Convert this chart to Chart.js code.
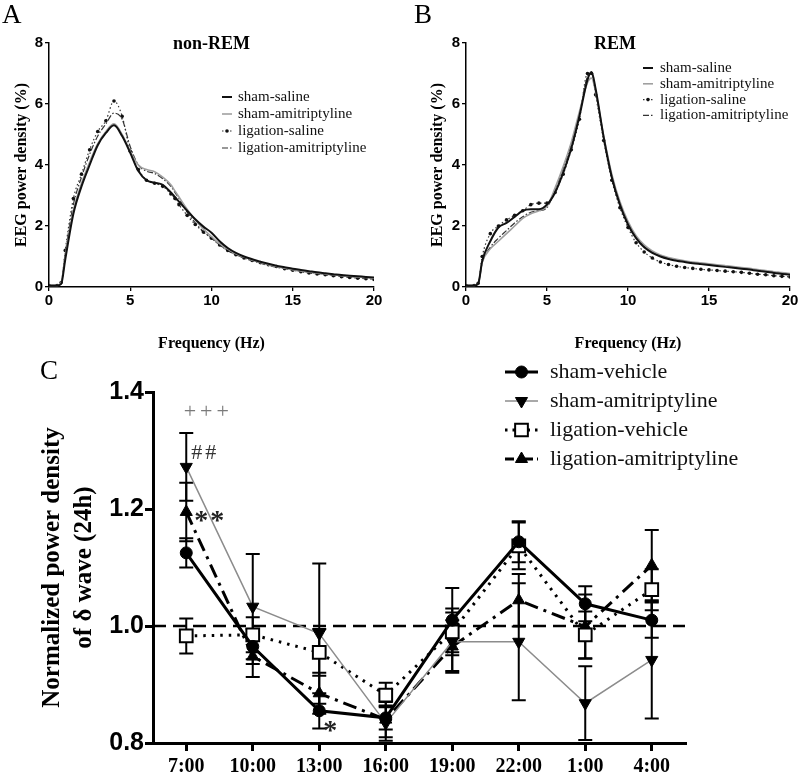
<!DOCTYPE html>
<html><head><meta charset="utf-8">
<script src="https://cdn.jsdelivr.net/npm/chart.js@4.4.0/dist/chart.umd.min.js"></script>
<style>
html,body{margin:0;padding:0;background:#fff;}
#wrap{position:relative;width:800px;height:775px;overflow:hidden;background:#fff;}
canvas{position:absolute;}
.lbl{position:absolute;font-family:'Liberation Serif',serif;font-size:27px;line-height:1;color:#000;}
</style></head><body>
<div id="wrap">
<canvas id="ca" width="400" height="360" style="left:0;top:0"></canvas>
<canvas id="cb" width="400" height="360" style="left:400px;top:0"></canvas>
<canvas id="cc" width="800" height="415" style="left:0;top:360px"></canvas>
<div class="lbl" style="left:2px;top:1px">A</div>
<div class="lbl" style="left:414px;top:1px">B</div>
<div class="lbl" style="left:40px;top:357px">C</div>
</div>
<script>
// ---------- Data: panels A & B (EEG spectra) ----------
const freqHz = [0,0.5,0.75,1,1.5,2,2.5,3,3.5,4,4.5,5,5.5,6,6.5,7,7.5,7.75,8,8.5,9,9.5,10,10.5,11,11.5,12,12.5,13,13.5,14,14.5,15,15.5,16,16.5,17,17.5,18,18.5,19,19.5,20];
const spectrumLabels = ['sham-saline','sham-amitriptyline','ligation-saline','ligation-amitriptyline'];

const nremShamSaline = [0.05,0.05,0.1,0.9,2.4,3.3,4.0,4.65,5.05,5.3,4.95,4.4,3.8,3.5,3.42,3.35,3.1,2.95,2.8,2.5,2.22,1.98,1.78,1.5,1.28,1.12,1.0,0.91,0.83,0.76,0.7,0.65,0.6,0.56,0.52,0.48,0.45,0.42,0.39,0.37,0.35,0.33,0.31];
const nremShamAmit   = [0.05,0.05,0.15,1.0,2.5,3.4,4.1,4.7,5.1,5.35,5.0,4.45,4.0,3.85,3.78,3.6,3.35,3.15,2.95,2.55,2.2,1.9,1.65,1.42,1.24,1.09,0.98,0.88,0.8,0.73,0.67,0.62,0.57,0.53,0.49,0.46,0.43,0.4,0.37,0.35,0.33,0.31,0.29];
const nremLigSaline  = [0.05,0.05,0.15,1.2,2.9,3.7,4.5,5.1,5.45,6.1,5.6,4.45,3.85,3.5,3.4,3.3,3.05,2.9,2.7,2.35,2.05,1.8,1.6,1.38,1.2,1.06,0.95,0.87,0.8,0.73,0.67,0.6,0.55,0.5,0.46,0.43,0.4,0.37,0.34,0.31,0.29,0.27,0.25];
const nremLigAmit    = [0.05,0.05,0.12,1.1,2.7,3.6,4.35,4.95,5.35,5.7,5.5,4.6,4.0,3.8,3.72,3.55,3.3,3.1,2.9,2.45,2.1,1.82,1.6,1.38,1.2,1.06,0.95,0.86,0.78,0.71,0.65,0.6,0.56,0.52,0.48,0.45,0.42,0.39,0.36,0.34,0.32,0.3,0.28];

const remShamSaline = [0.05,0.05,0.1,0.85,1.5,1.95,2.1,2.3,2.5,2.55,2.55,2.7,3.1,3.75,4.55,5.6,6.8,7.05,6.5,4.9,3.6,2.7,2.05,1.6,1.3,1.12,1.0,0.92,0.86,0.82,0.78,0.75,0.72,0.69,0.66,0.63,0.6,0.57,0.53,0.5,0.46,0.43,0.4];
const remShamAmit   = [0.05,0.05,0.1,0.8,1.25,1.5,1.75,2.0,2.25,2.4,2.5,2.65,3.25,3.95,4.75,5.75,6.7,6.85,6.4,4.95,3.7,2.8,2.15,1.68,1.38,1.18,1.05,0.97,0.91,0.86,0.82,0.79,0.76,0.73,0.7,0.67,0.64,0.61,0.57,0.54,0.5,0.47,0.44];
const remLigSaline  = [0.05,0.05,0.12,1.0,1.75,2.0,2.2,2.35,2.5,2.7,2.75,2.75,3.1,3.7,4.5,5.5,7.0,7.0,6.3,4.8,3.5,2.6,1.95,1.45,1.15,0.95,0.82,0.74,0.68,0.64,0.61,0.58,0.56,0.54,0.52,0.5,0.48,0.45,0.42,0.4,0.37,0.35,0.33];
const remLigAmit    = [0.05,0.05,0.1,0.8,1.3,1.6,1.85,2.1,2.3,2.45,2.5,2.6,3.2,3.9,4.7,5.65,6.9,7.0,6.45,4.9,3.6,2.7,2.05,1.62,1.33,1.14,1.02,0.94,0.88,0.84,0.8,0.77,0.74,0.71,0.68,0.65,0.62,0.59,0.56,0.52,0.49,0.46,0.43];

// ---------- Data: panel C ----------
const timeLabels = ['7:00','10:00','13:00','16:00','19:00','22:00','1:00','4:00'];
const groupLabels = ['sham-vehicle','sham-amitriptyline','ligation-vehicle','ligation-amitriptyline'];
const shamVehicle    = [1.125,0.965,0.855,0.843,1.010,1.144,1.038,1.010];
const shamVehicleErr = [0.025,0.030,0.030,0.020,0.055,0.035,0.030,0.030];
const shamAmit       = [1.272,1.033,0.987,0.834,0.973,0.973,0.868,0.942];
const shamAmitErr    = [0.058,0.090,0.120,0.030,0.050,0.100,0.063,0.100];
const ligVehicle     = [0.983,0.985,0.955,0.882,0.990,1.137,0.985,1.062];
const ligVehicleErr  = [0.030,0.030,0.040,0.021,0.040,0.040,0.040,0.035];
const ligAmit        = [1.195,0.948,0.885,0.840,0.965,1.044,0.999,1.104];
const ligAmitErr     = [0.050,0.035,0.035,0.030,0.045,0.045,0.055,0.060];
const baselineValue = 1.0;
const annotText  = ['+++','##','**','*'];
const annotIndex = [0,0,0,2];
const annotValue = [1.366,1.296,1.19,0.831];

// ---------- plugins ----------
const SERIF = "'Liberation Serif', 'Times New Roman', serif";
const SANS = "'Liberation Sans', Arial, sans-serif";

const legendPlugin = {
  id: 'customLegend',
  afterDraw(chart, args, o) {
    if (!o || !o.display) return;
    const ctx = chart.ctx;
    ctx.save();
    chart.data.datasets.forEach((ds, i) => {
      const y = o.y + i * o.dy;
      const x0 = o.x, x1 = o.x + o.lineLen;
      ctx.strokeStyle = ds.borderColor;
      ctx.lineWidth = ds.borderWidth;
      ctx.setLineDash(o.dashes ? (o.dashes[i] || []) : (ds.borderDash || []));
      ctx.beginPath(); ctx.moveTo(x0, y); ctx.lineTo(x1, y); ctx.stroke();
      ctx.setLineDash([]);
      if (ds.pointRadius > 0) {
        ctx.fillStyle = ds.pointBackgroundColor;
        ctx.strokeStyle = ds.pointBorderColor;
        ctx.lineWidth = ds.pointBorderWidth || 1;
        Chart.helpers.drawPoint(ctx, {pointStyle: ds.pointStyle || 'circle', rotation: ds.pointRotation || 0,
          radius: o.markerScale ? ds.pointRadius * o.markerScale : ds.pointRadius, borderWidth: ds.pointBorderWidth || 0}, (x0 + x1) / 2, y);
      }
      ctx.fillStyle = '#111';
      ctx.font = o.font;
      ctx.textBaseline = 'middle';
      ctx.textAlign = 'left';
      ctx.fillText(ds.label, o.textX, y);
    });
    ctx.restore();
  }
};

const titlePlugin = {
  id: 'panelTitle',
  afterDraw(chart, args, o) {
    if (!o || !o.text) return;
    const ctx = chart.ctx, a = chart.chartArea;
    ctx.save();
    ctx.font = o.font; ctx.fillStyle = '#000';
    ctx.textAlign = 'center'; ctx.textBaseline = 'middle';
    ctx.fillText(o.text, (a.left + a.right) / 2 + (o.dx || 0), o.y);
    ctx.restore();
  }
};

const errorBarPlugin = {
  id: 'errorBars',
  beforeDatasetsDraw(chart, args, o) {
    if (!o || !o.display) return;
    const ctx = chart.ctx, ys = chart.scales.y;
    ctx.save();
    // dashed reference line
    const yb = ys.getPixelForValue(o.baseline);
    ctx.strokeStyle = '#000'; ctx.lineWidth = 2.5; ctx.setLineDash([13, 7]);
    ctx.beginPath(); ctx.moveTo(chart.chartArea.left, yb); ctx.lineTo(chart.chartArea.right, yb); ctx.stroke();
    ctx.setLineDash([]);
    chart.data.datasets.forEach((ds, di) => {
      if (!ds.err) return;
      const meta = chart.getDatasetMeta(di);
      meta.data.forEach((pt, i) => {
        const v = ds.data[i], e = ds.err[i];
        const yt = ys.getPixelForValue(v + e), ybm = ys.getPixelForValue(v - e);
        ctx.strokeStyle = '#000'; ctx.lineWidth = 2;
        ctx.beginPath();
        ctx.moveTo(pt.x, yt); ctx.lineTo(pt.x, ybm);
        ctx.moveTo(pt.x - 7, yt); ctx.lineTo(pt.x + 7, yt);
        ctx.moveTo(pt.x - 7, ybm); ctx.lineTo(pt.x + 7, ybm);
        ctx.stroke();
      });
    });
    ctx.restore();
  },
  afterDatasetsDraw(chart, args, o) {
    if (!o || !o.display) return;
    const ctx = chart.ctx, xs = chart.scales.x, ys = chart.scales.y;
    ctx.save();
    ctx.textAlign = 'center'; ctx.textBaseline = 'middle';
    annotText.forEach((t, i) => {
      const st = o.annotStyle[i];
      ctx.font = st.font; ctx.fillStyle = st.color;
      if ('letterSpacing' in ctx) ctx.letterSpacing = st.ls + 'px';
      ctx.fillText(t, xs.getPixelForValue(annotIndex[i]) + st.dx, ys.getPixelForValue(annotValue[i]) + st.dy);
    });
    ctx.restore();
  }
};

Chart.register(legendPlugin, titlePlugin, errorBarPlugin);
Chart.defaults.font.family = SERIF;
Chart.defaults.color = '#000';

function spectrum(vals) { return freqHz.map((f, i) => ({x: f, y: vals[i]})); }

function spectrumDatasets(a, b, c, d) {
  const vals = [a, b, c, d];
  const st = [
    {borderColor: '#111', borderWidth: 2, pointRadius: 0},
    {borderColor: '#a0a0a0', borderWidth: 1.6, pointRadius: 0},
    {borderColor: '#333', borderWidth: 1.2, borderDash: [1.5, 2.5], pointRadius: 1.8, pointBackgroundColor: '#111', pointBorderColor: '#111', pointBorderWidth: 0},
    {borderColor: '#333', borderWidth: 1.2, borderDash: [6, 2, 1.5, 2], pointRadius: 0}
  ];
  return vals.map((v, i) => Object.assign({label: spectrumLabels[i], data: spectrum(v), cubicInterpolationMode: 'monotone', fill: false}, st[i]));
}

function spectrumOptions(cfg) {
  return {
    responsive: false, animation: false, devicePixelRatio: 1,
    layout: {padding: {left: 0, top: 43, right: cfg.padRight, bottom: 0}},
    plugins: {
      legend: {display: false}, tooltip: {enabled: false},
      customLegend: {display: true, x: cfg.legX, lineLen: 10, textX: cfg.legTextX, y: cfg.legY, dy: cfg.legDy, font: '15px ' + SERIF, markerScale: 1},
      panelTitle: {text: cfg.title, y: 44, dx: cfg.titleDx, font: 'bold 18px ' + SERIF},
      errorBars: {display: false}
    },
    scales: {
      x: {
        type: 'linear', min: 0, max: 20,
        ticks: {stepSize: 5, font: {family: SANS, size: 15, weight: 'bold'}, color: '#000', padding: 1, maxRotation: 0},
        grid: {drawOnChartArea: false, drawTicks: true, tickLength: 4, color: '#000', lineWidth: 1.3},
        border: {display: true, color: '#000', width: 1.5},
        title: {display: true, text: 'Frequency (Hz)', font: {family: SERIF, size: 16, weight: 'bold'}, color: '#000', padding: {top: 0, bottom: 6.5}},
        afterFit: s => { s.height = 73; }
      },
      y: {
        min: 0, max: 8,
        ticks: {stepSize: 2, font: {family: SANS, size: 15, weight: 'bold'}, color: '#000', padding: 2},
        grid: {drawOnChartArea: false, drawTicks: true, tickLength: 4, color: '#000', lineWidth: 1.3},
        border: {display: true, color: '#000', width: 1.5},
        title: {display: true, text: 'EEG power density (%)', font: {family: SERIF, size: 16, weight: 'bold'}, color: '#000', padding: {top: cfg.yTitlePad, bottom: 0}},
        afterFit: s => { s.width = cfg.yWidth; }
      }
    }
  };
}

new Chart(document.getElementById('ca'), {
  type: 'line',
  data: {datasets: spectrumDatasets(nremShamSaline, nremShamAmit, nremLigSaline, nremLigAmit)},
  options: spectrumOptions({padRight: 26, yWidth: 49, yTitlePad: 12.4, title: 'non-REM', titleDx: 0,
    legX: 222, legTextX: 238, legY: 97, legDy: 17})
});

new Chart(document.getElementById('cb'), {
  type: 'line',
  data: {datasets: spectrumDatasets(remShamSaline, remShamAmit, remLigSaline, remLigAmit)},
  options: spectrumOptions({padRight: 10, yWidth: 66, yTitlePad: 28.4, title: 'REM', titleDx: -13,
    legX: 243, legTextX: 260, legY: 68, legDy: 15.8})
});

// ---------- Panel C ----------
new Chart(document.getElementById('cc'), {
  type: 'line',
  data: {
    labels: timeLabels,
    datasets: [
      {label: groupLabels[0], data: shamVehicle, err: shamVehicleErr, borderColor: '#000', borderWidth: 3,
       pointStyle: 'circle', pointRadius: 6, pointBackgroundColor: '#000', pointBorderColor: '#000', pointBorderWidth: 1},
      {label: groupLabels[1], data: shamAmit, err: shamAmitErr, borderColor: '#8c8c8c', borderWidth: 1.5,
       pointStyle: 'triangle', pointRotation: 180, pointRadius: 7, pointBackgroundColor: '#000', pointBorderColor: '#000', pointBorderWidth: 1},
      {label: groupLabels[2], data: ligVehicle, err: ligVehicleErr, borderColor: '#000', borderWidth: 3, borderDash: [2.5, 6],
       pointStyle: 'rect', pointRadius: 9, pointBackgroundColor: '#fff', pointBorderColor: '#000', pointBorderWidth: 2},
      {label: groupLabels[3], data: ligAmit, err: ligAmitErr, borderColor: '#000', borderWidth: 3, borderDash: [14, 6, 3, 6],
       pointStyle: 'triangle', pointRadius: 7, pointBackgroundColor: '#000', pointBorderColor: '#000', pointBorderWidth: 1}
    ]
  },
  options: {
    responsive: false, animation: false, devicePixelRatio: 1,
    layout: {padding: {left: 0, top: 32, right: 115, bottom: 0}},
    plugins: {
      legend: {display: false}, tooltip: {enabled: false},
      customLegend: {display: true, x: 505, lineLen: 33, textX: 550, y: 12, dy: 29, font: '22px ' + SERIF,
        dashes: [[], [], [2.5, 5], [9, 4, 2, 4]]},
      errorBars: {display: true, baseline: baselineValue, annotStyle: [
        {font: '22px ' + SERIF, color: '#7a7a7a', dx: 22, dy: 0, ls: 4},
        {font: '22px ' + SERIF, color: '#333', dx: 19, dy: 0, ls: 3},
        {font: 'bold 28px ' + SERIF, color: '#222', dx: 24, dy: 7, ls: 2},
        {font: 'bold 28px ' + SERIF, color: '#222', dx: 11, dy: 7, ls: 0}
      ]},
      panelTitle: {text: ''}
    },
    scales: {
      x: {
        type: 'category', offset: true,
        ticks: {font: {family: SERIF, size: 20, weight: 'bold'}, color: '#000', padding: 4, maxRotation: 0, autoSkip: false},
        grid: {drawOnChartArea: false, drawTicks: true, tickLength: 8, color: '#000', lineWidth: 3, offset: false},
        border: {display: true, color: '#000', width: 3},
        afterFit: s => { s.height = 32; }
      },
      y: {
        min: 0.8, max: 1.4,
        ticks: {stepSize: 0.2, font: {family: SANS, size: 25, weight: 'bold'}, color: '#000', padding: 1,
          callback: v => Number(v).toFixed(1)},
        grid: {drawOnChartArea: false, drawTicks: true, tickLength: 8, color: '#000', lineWidth: 3},
        border: {display: true, color: '#000', width: 3},
        title: {display: true, text: ['Normalized power density', 'of \u03b4 wave (24h)'],
          font: {family: SERIF, size: 25, weight: 'bold', lineHeight: 1.25}, color: '#000', padding: {top: 37.4, bottom: 0}},
        afterFit: s => { s.width = 153; }
      }
    }
  }
});
</script>
</body></html>
